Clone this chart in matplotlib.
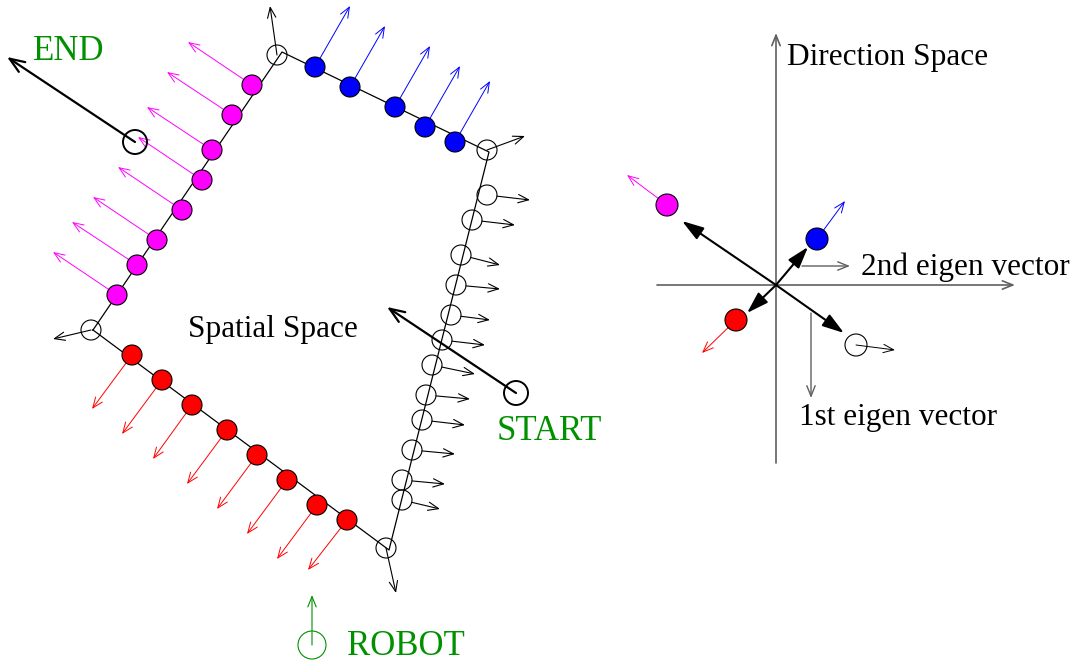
import matplotlib
matplotlib.use("Agg")
import matplotlib.pyplot as plt
from matplotlib.patches import Circle, FancyArrowPatch
import numpy as np

# Everything is in picture coordinates (pixels, y grows downward).

# --- spatial space ---
outline_xy = [(93, 330), (282, 52), (489, 152), (389, 550)]
corner_xy = [(91, 330), (277, 55), (487, 150), (386, 548)]
corner_tip = [(53, 339), (270, 6), (525, 136), (396, 593)]

magenta_xy = [(252, 85), (232, 115), (212, 150), (202, 180),
              (182, 210), (157, 240), (137, 265), (117, 295)]
magenta_tip = [(188, 42), (167, 72), (147, 107), (138, 137),
               (118, 167), (93, 197), (72, 222), (53, 252)]

blue_xy = [(315, 67), (350, 87), (395, 107), (425, 127), (455, 142)]
blue_tip = [(350, 6), (385, 26), (430, 46), (460, 66), (490, 81)]

hollow_xy = [(487, 195), (472, 220), (461, 255), (456, 285), (451, 315), (442, 340),
             (432, 365), (426, 395), (422, 420), (412, 450), (402, 480), (402, 500)]
hollow_tip = [(530, 200), (515, 225), (500, 265), (500, 289), (490, 320), (485, 345),
              (475, 374), (470, 399), (465, 425), (455, 454), (445, 484), (440, 509)]

red_xy = [(132, 355), (162, 380), (192, 405), (227, 430),
          (257, 455), (287, 480), (317, 505), (347, 520)]
red_tip = [(92, 409), (122, 434), (153, 459), (187, 484),
           (217, 509), (247, 534), (277, 559), (308, 570)]

start_xy, start_tip = (516, 393), (387, 307)
end_xy, end_tip = (135, 142), (7, 57)
robot_xy, robot_tip = (312, 645), (312, 595)

# --- direction space ---
dir_origin = (776, 285)
dir_vaxis = (463, 33)      # bottom, top (y)
dir_haxis = (657, 1015)    # left, right (x)
dir_colors = ["magenta", "blue", "red", "none"]
dir_xy = [(667, 205), (817, 239), (736, 320), (856, 345)]
dir_tip = [(627, 175), (845, 201), (702, 353), (895, 350)]
dir_eig_tip = [(682, 221), (808, 247), (747, 313), (844, 333)]
eig2 = [(802, 266), (850, 266)]
eig1 = [(811, 313), (811, 398)]

# Colour palette
green = "#009000"
gray = "#606060"
magenta = "#ff00ff"
blue = "#0000ff"
red = "#ff0000"

FONT = "Liberation Serif"
R = 10  # marker radius, px


def arrow(ax, a, b, color="black", lw=0.9, head="->", hl=0.75, hw=0.3, ms=10, z=1):
    style = f"{head},head_length={hl},head_width={hw}"
    ax.add_patch(FancyArrowPatch(a, b, arrowstyle=style, mutation_scale=ms,
                                 color=color, lw=lw, shrinkA=0, shrinkB=0, zorder=z))


def dot(ax, xy, face, r=R, edge="black", lw=0.8, z=3):
    ax.add_patch(Circle(xy, r, facecolor=face, edgecolor=edge, lw=lw, zorder=z))


def from_edge(xy, tip, r=R):
    p, q = np.array(xy, float), np.array(tip, float)
    d = q - p
    return tuple(p + r * d / np.linalg.norm(d))


fig = plt.figure(figsize=(10.75, 6.63), dpi=100)
ax = fig.add_axes([0, 0, 1, 1])
ax.set_xlim(0, 1075)
ax.set_ylim(663, 0)
ax.axis("off")

# room outline
ox, oy = zip(*(outline_xy + outline_xy[:1]))
ax.plot(ox, oy, color="black", lw=0.9, zorder=2)

for xy, tip in zip(magenta_xy, magenta_tip):
    arrow(ax, xy, tip, color=magenta, lw=0.7)
    dot(ax, xy, magenta)
for xy, tip in zip(blue_xy, blue_tip):
    arrow(ax, xy, tip, color=blue, lw=0.7)
    dot(ax, xy, blue)
for xy, tip in zip(red_xy, red_tip):
    arrow(ax, xy, tip, color=red, lw=0.7)
    dot(ax, xy, red)
for xy, tip in zip(hollow_xy, hollow_tip):
    arrow(ax, from_edge(xy, tip), tip, lw=0.8)
    dot(ax, xy, "none")
for xy, tip in zip(corner_xy, corner_tip):
    arrow(ax, xy, tip, lw=0.8)
    dot(ax, xy, "none")

# start / end / robot
arrow(ax, start_xy, start_tip, lw=1.6, hl=0.9, hw=0.35, ms=12)
dot(ax, start_xy, "none", r=12, lw=1.4)
arrow(ax, end_xy, end_tip, lw=1.6, hl=0.9, hw=0.35, ms=12)
dot(ax, end_xy, "none", r=12, lw=1.4)
arrow(ax, robot_xy, robot_tip, color=green, lw=0.8)
dot(ax, robot_xy, "none", r=14, edge=green)

txt = dict(family=FONT, va="baseline", ha="left")
ax.text(33, 60, "END", color=green, fontsize=25, **txt)
ax.text(497, 440, "START", color=green, fontsize=25, **txt)
ax.text(347, 655, "ROBOT", color=green, fontsize=25, **txt)
ax.text(188, 337, "Spatial Space", color="black", fontsize=22.5, **txt)

# direction space axes
cx, cy = dir_origin
arrow(ax, (cx, dir_vaxis[0]), (cx, dir_vaxis[1]), color=gray, lw=1.2)
arrow(ax, (dir_haxis[0], cy), (dir_haxis[1], cy), color=gray, lw=1.2)
arrow(ax, eig2[0], eig2[1], color=gray, lw=1.0)
arrow(ax, eig1[0], eig1[1], color=gray, lw=1.0)

for col, xy, tip, etip in zip(dir_colors, dir_xy, dir_tip, dir_eig_tip):
    arrow(ax, dir_origin, etip, lw=1.5, head="-|>", hl=1.1, hw=0.35, ms=12, z=2)
    c = {"magenta": magenta, "blue": blue, "red": red}.get(col, "black")
    arrow(ax, xy, tip, color=c, lw=0.7)
    dot(ax, xy, col, r=11)

ax.text(787, 65, "Direction Space", color="black", fontsize=22.5, **txt)
ax.text(861, 275, "2nd eigen vector", color="black", fontsize=22.5, **txt)
ax.text(799, 425, "1st eigen vector", color="black", fontsize=22.5, **txt)

fig.savefig("out.png", dpi=100)
